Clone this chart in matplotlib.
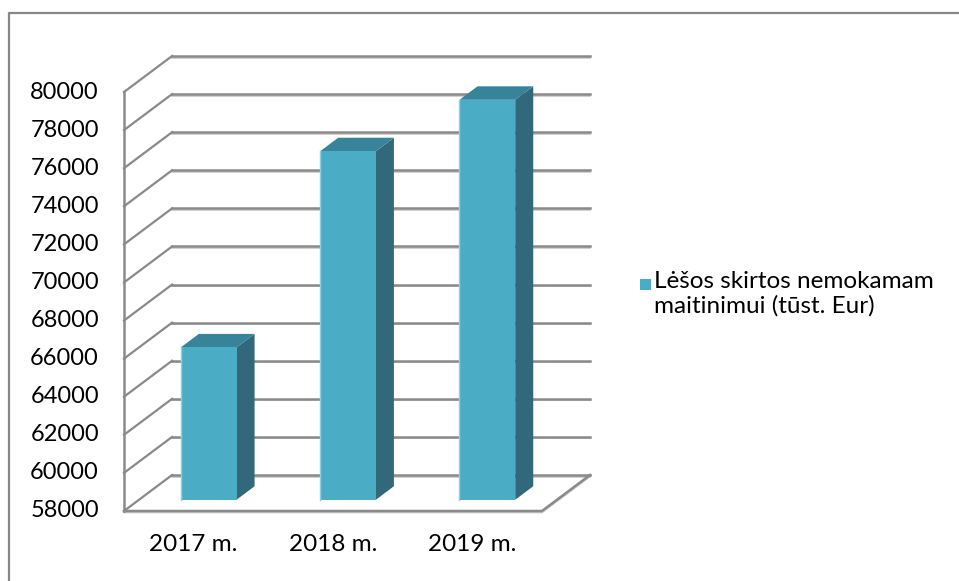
import matplotlib.pyplot as plt
import matplotlib.transforms as mtransforms
from matplotlib.patches import Polygon, Rectangle
from matplotlib.lines import Line2D

# duomenys
categories = ["2017 m.", "2018 m.", "2019 m."]
values = [66000, 76300, 79000]
series_name = "Lėšos skirtos nemokamam\nmaitinimui (tūst. Eur)"
y_ticks = list(range(58000, 80001, 2000))

plt.rcParams['font.family'] = ['Lato', 'DejaVu Sans']

y_min, y_max = 58000, 80000
n = len(categories)

# 3D imitacija: gylio poslinkis (kategorijos vienetais ir reiksmes vienetais)
D = 0.345           # gylis x kryptimi
DV = 1890.0         # gylis y kryptimi
f_front = 0.3125    # stulpelio priekio gylis
f_depth = 0.375     # stulpelio gylis
bar_w = 0.40

c_front = '#4BACC6'
c_side = '#31697B'
c_top = '#37849A'
c_grid = '#8a8a8a'

fig = plt.figure(figsize=(9.59, 5.81), dpi=100)
ax = fig.add_axes([0, 0, 1, 1])
ax.set_xlim(-0.890, 5.993)
ax.set_ylim(54324.5, 84831)
ax.axis('off')

shadow = ax.transData + mtransforms.ScaledTranslation(0, -1.5 / 100, fig.dpi_scale_trans)

# galine siena ir sonine siena
for v in y_ticks:
    ax.plot([D, n + D], [v + DV, v + DV], color='#c8c8c8', lw=1.2, zorder=1, transform=shadow)
    ax.plot([D, n + D], [v + DV, v + DV], color=c_grid, lw=1.8, zorder=2)
    ax.plot([0, D], [v, v + DV], color=c_grid, lw=1.6, zorder=2)
ax.plot([0, 0], [y_min, y_max], color=c_grid, lw=1.8, zorder=2)

# grindys
ax.plot([0, n, n + D], [y_min, y_min, y_min + DV], color='#c8c8c8', lw=1.2, zorder=1, transform=shadow)
ax.plot([0, n, n + D], [y_min, y_min, y_min + DV], color=c_grid, lw=1.8, zorder=2)

# stulpeliai
for i, v in enumerate(values):
    x0 = i + 0.5 - bar_w / 2 + f_front * D
    x1 = x0 + bar_w
    b = y_min + f_front * DV
    t = v + f_front * DV
    dx = f_depth * D
    dy = f_depth * DV
    ax.add_patch(Polygon([(x1, b), (x1, t), (x1 + dx, t + dy), (x1 + dx, b + dy)],
                         closed=True, facecolor=c_side, edgecolor='none', zorder=5))
    ax.add_patch(Polygon([(x0, t), (x1, t), (x1 + dx, t + dy), (x0 + dx, t + dy)],
                         closed=True, facecolor=c_top, edgecolor='none', zorder=5))
    ax.add_patch(Polygon([(x0, b), (x1, b), (x1, t), (x0, t)],
                         closed=True, facecolor=c_front, edgecolor='none', zorder=6))
    ax.plot([x0, x0], [b, t], color='#8fd0e0', lw=1.0, zorder=7)

# asiu uzrasai
for v in y_ticks:
    ax.text(-0.18, v, str(v), ha='right', va='center', fontsize=17, color='#000000')

lab_tr = ax.transData + mtransforms.ScaledTranslation(0, -34 / 100, fig.dpi_scale_trans)
for i, c in enumerate(categories):
    ax.text(i + 0.5, y_min, c, ha='center', va='center', fontsize=17.5,
            color='#000000', transform=lab_tr)

# legenda
fig.add_artist(Rectangle((640 / 959, 1 - 290 / 581), 11 / 959, 11 / 581,
                         facecolor=c_front, edgecolor='none', transform=fig.transFigure))
fig.text(654 / 959, 1 - 271 / 581, series_name, ha='left', va='top',
         fontsize=17.5, linespacing=1.15, color='#000000')

# remelis
fig.add_artist(Line2D([9 / 959, 9 / 959, 1.0], [0, 1 - 13 / 581, 1 - 13 / 581],
                      color='#878787', lw=1.6, transform=fig.transFigure))

fig.savefig('out.png', dpi=100)
